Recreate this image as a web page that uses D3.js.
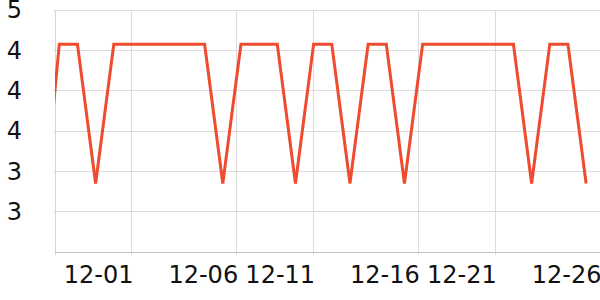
<!DOCTYPE html>
<html>
<head>
<meta charset="utf-8">
<script src="https://cdn.jsdelivr.net/npm/d3@7"></script>
<style>
  body { margin: 0; background: #fff; }
  text { font-family: "DejaVu Sans", sans-serif; }
</style>
</head>
<body>
<div id="chart"></div>
<script>
// data
var dates = ["2023-11-26", "2023-11-27", "2023-11-28", "2023-11-29", "2023-11-30", "2023-12-01",
  "2023-12-02", "2023-12-03", "2023-12-04", "2023-12-05", "2023-12-06", "2023-12-07", "2023-12-08",
  "2023-12-09", "2023-12-10", "2023-12-11", "2023-12-12", "2023-12-13", "2023-12-14", "2023-12-15",
  "2023-12-16", "2023-12-17", "2023-12-18", "2023-12-19", "2023-12-20", "2023-12-21", "2023-12-22",
  "2023-12-23", "2023-12-24", "2023-12-25", "2023-12-26"];
var values = [2.55, 4.46, 4.46, 3.08, 4.46, 4.46, 4.46, 4.46, 4.46, 4.46, 3.08, 4.46, 4.46, 4.46,
  3.08, 4.46, 4.46, 3.08, 4.46, 4.46, 3.08, 4.46, 4.46, 4.46, 4.46, 4.46, 4.46, 3.08, 4.46, 4.46, 3.08];

var xDomain = ["2023-11-26 18:20", "2023-12-26 18:20"];
var xTicks = ["2023-12-01 00:00", "2023-12-06 18:20", "2023-12-11 00:00",
  "2023-12-16 18:20", "2023-12-21 00:00", "2023-12-26 18:20"];
var yDomain = [2.4, 4.8];
var yTicks = [4.8, 4.4, 4.0, 3.6, 3.2, 2.8];
var yLabels = ["5", "4", "4", "4", "3", "3"];

var W = 600, H = 300,
    plotLeft = 55, plotRight = 600, plotTop = 10, plotBottom = 252;

var parseDay = d3.timeParse("%Y-%m-%d"),
    parseTime = d3.timeParse("%Y-%m-%d %H:%M");

var data = dates.map((d, i) => ({date: parseDay(d), value: values[i]}));

var x = d3.scaleTime()
  .domain(xDomain.map(parseTime))
  .range([plotLeft, plotRight]);
var y = d3.scaleLinear()
  .domain(yDomain)
  .range([plotBottom, plotTop]);

var svg = d3.select("#chart").append("svg")
  .attr("width", W)
  .attr("height", H);

// grid
svg.append("g").selectAll("line")
  .data(yTicks)
  .join("line")
  .attr("x1", plotLeft - 2).attr("x2", plotRight)
  .attr("y1", d => y(d)).attr("y2", d => y(d))
  .attr("stroke", "#dcdcdc").attr("stroke-width", 1)
  .attr("shape-rendering", "crispEdges");

svg.append("g").selectAll("line")
  .data(xTicks.map(parseTime))
  .join("line")
  .attr("x1", d => x(d)).attr("x2", d => x(d))
  .attr("y1", plotTop).attr("y2", plotBottom + 3)
  .attr("stroke", "#dcdcdc").attr("stroke-width", 1)
  .attr("shape-rendering", "crispEdges");

// left edge
svg.append("line")
  .attr("x1", plotLeft).attr("x2", plotLeft).attr("y1", plotTop).attr("y2", plotBottom + 3)
  .attr("stroke", "#d6d6d6").attr("shape-rendering", "crispEdges");

// y axis labels
var yAxis = svg.append("g")
  .attr("transform", "translate(" + plotLeft + ",0)")
  .call(d3.axisLeft(y).tickValues(yTicks).tickFormat((d, i) => yLabels[i]).tickSize(0).tickPadding(33));
yAxis.select(".domain").remove();
yAxis.selectAll("text")
  .attr("font-family", "DejaVu Sans")
  .attr("font-size", 24)
  .attr("fill", "#111");

// x axis labels
var xAxis = svg.append("g")
  .attr("transform", "translate(0," + plotBottom + ")")
  .call(d3.axisBottom(x).tickValues(xTicks.map(parseTime)).tickFormat(d3.timeFormat("%m-%d")).tickSize(0));
xAxis.select(".domain")
  .attr("stroke", "#c4c4c4");
xAxis.selectAll("text")
  .attr("font-family", "DejaVu Sans")
  .attr("font-size", 24)
  .attr("fill", "#111")
  .attr("text-anchor", "end")
  .attr("x", 1)
  .attr("y", 31)
  .attr("dy", 0);

// line, clipped to the plot area
svg.append("clipPath").attr("id", "clip")
  .append("rect")
  .attr("x", plotLeft).attr("y", 0)
  .attr("width", plotRight - plotLeft).attr("height", plotBottom);

svg.append("path")
  .datum(data)
  .attr("clip-path", "url(#clip)")
  .attr("fill", "none")
  .attr("stroke", "#ee4b2f")
  .attr("stroke-width", 3)
  .attr("stroke-linejoin", "miter")
  .attr("d", d3.line().x(d => x(d.date)).y(d => y(d.value)));
</script>
</body>
</html>
